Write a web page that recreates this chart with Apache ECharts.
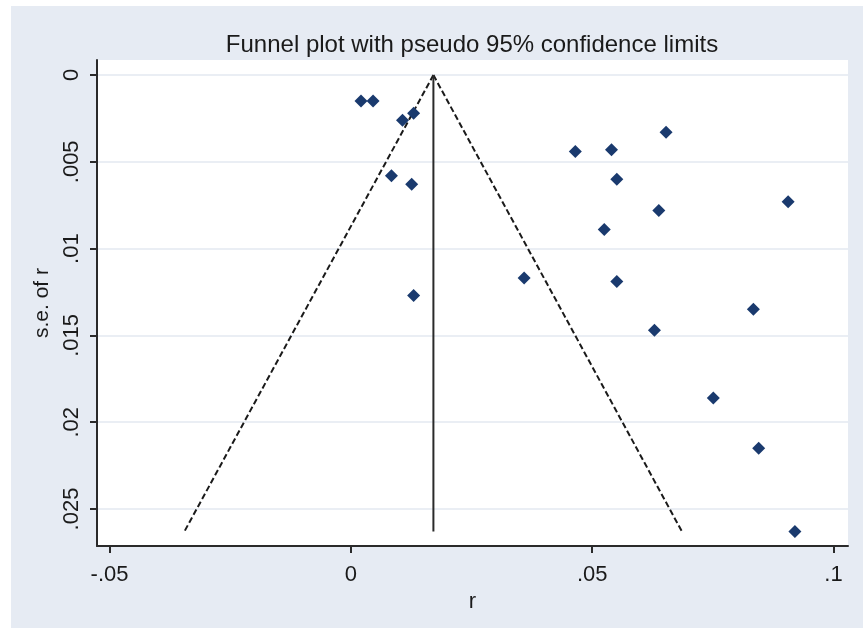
<!DOCTYPE html>
<html>
<head>
<meta charset="utf-8">
<script src="https://cdn.jsdelivr.net/npm/echarts@6/dist/echarts.min.js"></script>
<style>
  html, body { margin: 0; padding: 0; background: #ffffff; width: 863px; height: 628px; overflow: hidden; }
  #chart { position: absolute; left: 11px; top: 6px; width: 852px; height: 622px; }
</style>
</head>
<body>
<div id="chart"></div>
<script>
// ---- data ----
const rValues  = [0.0021, 0.0046, 0.0107, 0.0130, 0.0084, 0.0126, 0.0465, 0.0540, 0.0551, 0.0525, 0.0359,
                  0.0551, 0.0130, 0.0653, 0.0906, 0.0638, 0.0834, 0.0629, 0.0751, 0.0845, 0.0920];
const seValues = [0.0015, 0.0015, 0.0026, 0.0022, 0.0058, 0.0063, 0.0044, 0.0043, 0.0060, 0.0089, 0.0117,
                  0.0119, 0.0127, 0.0033, 0.0073, 0.0078, 0.0135, 0.0147, 0.0186, 0.0215, 0.0263];
const pooledR  = [0.0171, 0.0171];
const pooledSe = [0, 0.0263];
const lowerLimitR  = [0.0171, -0.0345];
const lowerLimitSe = [0, 0.0263];
const upperLimitR  = [0.0171, 0.0686];
const upperLimitSe = [0, 0.0263];
const xTickValues = [-0.05, 0, 0.05, 0.1];
const xTickLabels = ['-.05', '0', '.05', '.1'];
const yTickValues = [0, 0.005, 0.01, 0.015, 0.02, 0.025];
const yTickLabels = ['0', '.005', '.01', '.015', '.02', '.025'];
const titleText = 'Funnel plot with pseudo 95% confidence limits';

function pairs(a, b) { return a.map((v, i) => [v, b[i]]); }
function labelFor(values, labels) {
  return function (v) {
    for (let i = 0; i < values.length; i++) if (Math.abs(values[i] - v) < 1e-9) return labels[i];
    return '';
  };
}

const FONT = 'Arial, "Liberation Sans", sans-serif';
const TXT = '#1a1a1a';
const AX = '#2a2a2a';

const chart = echarts.init(document.getElementById('chart'), null, { renderer: 'canvas' });
chart.setOption({
  backgroundColor: '#E6EBF3',
  animation: false,
  title: {
    text: titleText,
    left: 456,
    top: 22,
    textAlign: 'center',
    textStyle: { fontFamily: FONT, fontSize: 24, fontWeight: 'normal', color: TXT }
  },
  grid: {
    left: 86, right: 15, top: 54, bottom: 82,
    show: true, backgroundColor: '#ffffff', borderWidth: 0
  },
  xAxis: {
    type: 'value',
    min: -0.0526, max: 0.1030,
    name: 'r', nameLocation: 'middle', nameGap: 32,
    nameTextStyle: { fontFamily: FONT, fontSize: 22, color: TXT },
    axisLine: { show: true, onZero: false, lineStyle: { color: AX, width: 2 } },
    axisTick: { show: true, length: 7, customValues: xTickValues, lineStyle: { color: AX, width: 2 } },
    axisLabel: { show: true, margin: 18, customValues: xTickValues, formatter: labelFor(xTickValues, xTickLabels),
                 fontFamily: FONT, fontSize: 22, color: TXT },
    splitLine: { show: false }
  },
  yAxis: {
    type: 'value',
    inverse: true,
    min: -0.000864, max: 0.02713,
    name: 's.e. of r', nameLocation: 'middle', nameGap: 37, nameRotate: 90,
    nameTextStyle: { fontFamily: FONT, fontSize: 21, color: TXT },
    axisLine: { show: true, onZero: false, lineStyle: { color: AX, width: 2 } },
    axisTick: { show: true, length: 7, customValues: yTickValues, lineStyle: { color: AX, width: 2 } },
    axisLabel: { show: true, margin: 14, rotate: 90, customValues: yTickValues, formatter: labelFor(yTickValues, yTickLabels),
                 fontFamily: FONT, fontSize: 22, color: TXT },
    splitLine: { show: true, lineStyle: { color: '#E3E8F1', width: 1.5 } }
  },
  series: [
    { type: 'line', data: pairs(lowerLimitR, lowerLimitSe), symbol: 'none', silent: true,
      lineStyle: { color: '#1a1a1a', width: 2, type: [6, 3] } },
    { type: 'line', data: pairs(upperLimitR, upperLimitSe), symbol: 'none', silent: true,
      lineStyle: { color: '#1a1a1a', width: 2, type: [6, 3] } },
    { type: 'line', data: pairs(pooledR, pooledSe), symbol: 'none', silent: true,
      lineStyle: { color: '#2a2a2a', width: 2 } },
    { type: 'scatter', data: pairs(rValues, seValues), symbol: 'diamond', symbolSize: [13, 13],
      itemStyle: { color: '#1A3A6E', opacity: 1 }, z: 5 }
  ]
});
</script>
</body>
</html>
